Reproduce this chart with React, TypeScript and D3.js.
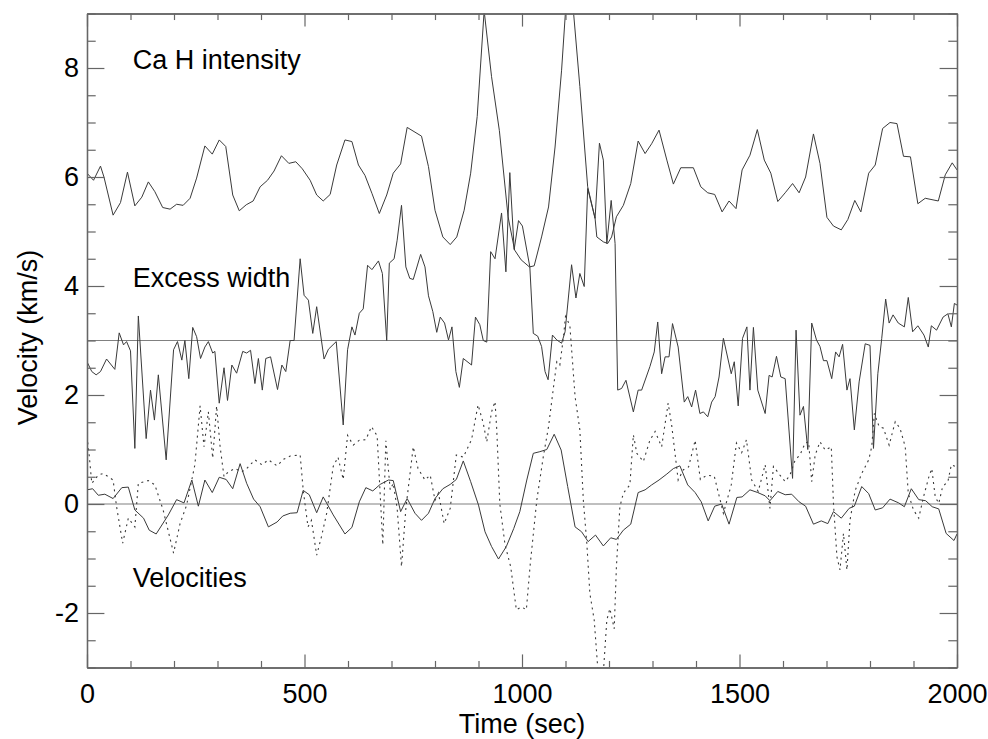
import React, { useEffect, useRef } from "react";
import * as d3 from "d3";

// [time (sec), value (km/s)]
const caHIntensity: [number, number][] = [
  [0, 6.07], [15, 5.94], [31, 6.2], [39, 6.0], [60, 5.3], [77, 5.53], [93, 6.09], [110, 5.47],
  [126, 5.63], [141, 5.91], [156, 5.73], [174, 5.44], [191, 5.41], [206, 5.5], [221, 5.48],
  [237, 5.61], [252, 5.98], [271, 6.57], [288, 6.42], [304, 6.68], [319, 6.56], [335, 5.67],
  [350, 5.38], [366, 5.49], [382, 5.56], [398, 5.82], [415, 5.94], [430, 6.11], [447, 6.39],
  [464, 6.25], [480, 6.28], [495, 6.15], [513, 5.94], [528, 5.67], [543, 5.56], [559, 5.68],
  [574, 6.22], [593, 6.68], [609, 6.65], [624, 6.22], [639, 6.03], [655, 5.7], [672, 5.33],
  [689, 5.67], [704, 6.07], [721, 6.24], [736, 6.91], [769, 6.75], [785, 6.19], [800, 5.39],
  [818, 4.9], [835, 4.76], [850, 4.9], [867, 5.39], [882, 6.07], [897, 7.11], [913, 9.05],
  [930, 7.84], [948, 6.85], [968, 5.27], [983, 4.66], [998, 4.48], [1017, 4.35], [1028, 4.37],
  [1045, 4.9], [1061, 5.45], [1076, 6.55], [1091, 7.96], [1108, 10.0], [1133, 7.66],
  [1151, 5.82], [1168, 5.24], [1172, 4.9], [1187, 4.81], [1197, 4.78], [1206, 4.9],
  [1217, 5.27], [1233, 5.48], [1250, 5.88], [1267, 6.66], [1283, 6.43], [1298, 6.61],
  [1315, 6.86], [1333, 6.31], [1348, 5.87], [1365, 6.17], [1394, 6.17], [1411, 5.82],
  [1427, 5.71], [1443, 5.68], [1460, 5.36], [1476, 5.56], [1492, 5.42], [1506, 6.13],
  [1524, 6.4], [1541, 6.87], [1557, 6.31], [1572, 6.07], [1588, 5.55], [1605, 5.71],
  [1622, 5.88], [1637, 5.71], [1652, 6.0], [1670, 6.79], [1685, 6.25], [1701, 5.26],
  [1716, 5.1], [1734, 5.03], [1749, 5.22], [1765, 5.57], [1779, 5.36], [1797, 6.07],
  [1812, 6.22], [1829, 6.89], [1846, 7.0], [1862, 6.98], [1877, 6.38], [1893, 6.37],
  [1910, 5.51], [1927, 5.61], [1957, 5.56], [1973, 6.04], [1989, 6.26], [2000, 6.13],
];

const excessWidth: [number, number][] = [
  [0, 2.61], [11, 2.43], [21, 2.37], [31, 2.43], [45, 2.66], [64, 2.47], [74, 3.14], [84, 2.92],
  [91, 2.98], [100, 2.81], [110, 1.02], [118, 3.45], [136, 1.2], [146, 2.09], [155, 1.54],
  [164, 2.37], [182, 0.81], [199, 2.83], [208, 2.98], [218, 2.64], [225, 3.0], [234, 2.3],
  [243, 3.24], [252, 3.07], [261, 2.67], [271, 2.88], [279, 2.98], [289, 2.77], [294, 2.8],
  [304, 1.85], [315, 2.5], [323, 1.9], [333, 2.55], [344, 2.4], [358, 2.8], [367, 2.77],
  [376, 2.82], [386, 2.21], [394, 2.67], [403, 2.09], [411, 2.67], [422, 2.7], [438, 2.1],
  [448, 2.55], [457, 2.43], [467, 3.0], [476, 3.0], [490, 4.5], [499, 3.83], [509, 3.74],
  [519, 3.13], [528, 3.62], [545, 2.66], [555, 2.84], [573, 2.98], [589, 1.45], [599, 2.83],
  [609, 3.25], [616, 3.1], [626, 3.5], [635, 3.58], [645, 4.38], [655, 4.3], [670, 4.46],
  [679, 4.23], [689, 3.0], [695, 4.42], [706, 4.5], [713, 4.84], [723, 5.48], [733, 4.35],
  [742, 4.14], [750, 4.12], [767, 4.58], [777, 4.35], [785, 3.82], [795, 3.53], [804, 3.15],
  [812, 3.43], [822, 3.32], [831, 3.01], [839, 3.25], [848, 2.43], [856, 2.14], [865, 2.67],
  [884, 2.55], [893, 3.43], [903, 3.29], [911, 3.0], [919, 2.97], [928, 4.63], [938, 4.5],
  [953, 5.34], [963, 4.26], [972, 6.08], [982, 4.67], [992, 5.2], [1001, 5.1], [1018, 4.35],
  [1026, 3.13], [1036, 3.08], [1045, 2.89], [1053, 2.43], [1060, 2.28], [1070, 3.1],
  [1080, 3.01], [1091, 2.95], [1099, 3.16], [1114, 4.39], [1124, 3.78], [1133, 4.23],
  [1143, 3.99], [1151, 5.79], [1168, 5.24], [1178, 6.62], [1187, 6.31], [1195, 4.78],
  [1205, 5.57], [1214, 4.78], [1220, 2.09], [1229, 2.12], [1239, 2.27], [1256, 1.69],
  [1267, 2.09], [1275, 2.09], [1294, 2.52], [1304, 2.79], [1312, 3.34], [1321, 2.39],
  [1329, 2.7], [1338, 2.7], [1346, 3.31], [1359, 2.88], [1373, 1.87], [1381, 1.97],
  [1390, 1.78], [1399, 2.09], [1409, 1.66], [1417, 1.69], [1427, 1.6], [1436, 1.87],
  [1444, 1.97], [1453, 2.33], [1463, 3.04], [1481, 2.39], [1488, 2.61], [1497, 1.8],
  [1507, 3.04], [1517, 3.25], [1524, 2.09], [1532, 3.24], [1542, 2.09], [1559, 1.66],
  [1568, 2.36], [1575, 2.33], [1585, 2.71], [1595, 2.33], [1605, 2.3], [1622, 0.47],
  [1630, 3.19], [1639, 1.63], [1647, 1.79], [1657, 1.0], [1666, 3.32], [1677, 3.01],
  [1685, 2.89], [1693, 2.63], [1701, 2.63], [1712, 2.3], [1721, 2.79], [1729, 2.7],
  [1737, 2.93], [1747, 2.09], [1754, 2.3], [1764, 1.36], [1775, 2.24], [1789, 2.94],
  [1800, 2.91], [1808, 1.02], [1818, 2.39], [1827, 3.04], [1836, 3.76], [1844, 3.32],
  [1853, 3.47], [1865, 3.32], [1879, 3.25], [1888, 3.79], [1898, 3.16], [1910, 3.27],
  [1924, 3.1], [1934, 2.88], [1941, 3.27], [1953, 3.19], [1968, 3.43], [1979, 3.49],
  [1987, 3.25], [1994, 3.68], [2000, 3.65],
];

const velocitySolid: [number, number][] = [
  [0, 0.26], [13, 0.28], [26, 0.16], [41, 0.18], [60, 0.1], [80, 0.3], [95, 0.31], [110, -0.11],
  [130, -0.26], [143, -0.48], [159, -0.55], [187, -0.2], [206, 0.08], [223, 0.02], [241, 0.44],
  [256, -0.04], [271, 0.44], [288, 0.21], [304, 0.49], [320, 0.45], [335, 0.28], [352, 0.74],
  [367, 0.38], [383, 0.09], [398, -0.05], [417, -0.42], [437, -0.33], [450, -0.22],
  [467, -0.17], [483, -0.16], [497, 0.25], [511, 0.17], [528, -0.16], [543, 0.13],
  [566, -0.2], [593, -0.55], [609, -0.43], [626, 0.04], [641, 0.3], [657, 0.24], [674, 0.36],
  [693, 0.44], [704, 0.43], [721, -0.14], [736, 0.1], [754, -0.17], [769, -0.3], [785, -0.17],
  [800, 0.1], [818, 0.28], [835, 0.36], [849, 0.45], [865, 0.79], [882, 0.41], [900, -0.02],
  [915, -0.51], [930, -0.78], [946, -1.01], [964, -0.78], [981, -0.45], [995, -0.14],
  [1011, 0.44], [1026, 0.93], [1041, 0.96], [1057, 1.0], [1074, 1.28], [1090, 0.99],
  [1105, 0.32], [1122, -0.42], [1137, -0.51], [1152, -0.69], [1169, -0.57], [1187, -0.77],
  [1204, -0.62], [1217, -0.65], [1233, -0.48], [1250, -0.37], [1267, 0.21], [1283, 0.26],
  [1298, 0.35], [1315, 0.44], [1333, 0.55], [1348, 0.65], [1363, 0.7], [1381, 0.35],
  [1398, 0.21], [1412, 0.04], [1428, -0.31], [1443, -0.04], [1459, 0.0], [1476, -0.37],
  [1494, 0.12], [1506, 0.13], [1524, 0.26], [1542, 0.21], [1559, 0.15], [1570, 0.06],
  [1588, 0.23], [1605, 0.17], [1620, 0.18], [1637, 0.04], [1652, -0.04], [1670, -0.37],
  [1688, -0.31], [1703, -0.36], [1716, -0.14], [1734, -0.26], [1752, -0.08], [1764, -0.04],
  [1781, 0.32], [1797, 0.19], [1812, -0.11], [1829, -0.07], [1846, 0.09], [1866, 0.02],
  [1879, -0.05], [1895, 0.28], [1912, 0.08], [1928, 0.06], [1943, -0.05], [1958, -0.09],
  [1975, -0.54], [1993, -0.67], [2000, -0.55],
];

const velocityDotted: [number, number][] = [
  [0, 1.24], [5, 0.9], [11, 0.38], [26, 0.53], [37, 0.56], [49, 0.5], [60, 0.44], [68, -0.05],
  [82, -0.72], [95, -0.26], [110, -0.42], [118, 0.38], [141, 0.43], [156, 0.35], [175, -0.11],
  [199, -0.9], [214, -0.36], [229, -0.02], [248, 0.72], [260, 1.8], [269, 1.05], [279, 1.69],
  [289, 0.84], [298, 1.8], [306, 1.05], [315, 0.5], [325, 0.59], [340, 0.65], [356, 0.59],
  [367, 0.65], [386, 0.81], [402, 0.72], [417, 0.81], [437, 0.7], [452, 0.82], [467, 0.88],
  [490, 0.9], [497, 0.26], [508, -0.42], [516, -0.3], [528, -0.94], [539, -0.6], [551, -0.17],
  [566, 0.69], [577, 0.86], [589, 0.45], [599, 1.26], [612, 1.08], [626, 1.17], [641, 1.18],
  [654, 1.42], [667, 1.25], [680, -0.75], [687, 1.16], [697, 0.26], [704, 0.38], [713, -0.08],
  [723, -1.15], [733, -0.08], [750, 1.05], [761, 0.65], [777, 0.44], [789, 0.53], [800, 0.07],
  [808, 0.2], [821, -0.36], [835, -0.08], [849, 0.9], [865, 0.86], [884, 1.18], [899, 1.82],
  [911, 1.48], [919, 1.14], [930, 1.69], [938, 1.88], [942, 1.36], [949, 0.0], [961, -0.75],
  [974, -1.15], [987, -1.94], [999, -1.89], [1010, -1.94], [1019, -1.1], [1034, 0.07],
  [1049, 0.87], [1061, 1.42], [1072, 2.12], [1080, 2.61], [1087, 2.55], [1095, 3.04],
  [1100, 3.44], [1110, 3.28], [1122, 1.97], [1133, 1.36], [1141, 0.07], [1149, -0.72],
  [1156, -1.64], [1166, -2.13], [1175, -3.1], [1187, -3.1], [1195, -2.13], [1202, -1.92],
  [1212, -2.29], [1217, -1.16], [1225, -0.05], [1233, 0.2], [1248, 0.35], [1256, 1.27],
  [1264, 0.93], [1279, 0.78], [1294, 1.17], [1306, 1.33], [1321, 1.05], [1336, 1.85],
  [1344, 1.45], [1359, 0.44], [1371, 0.63], [1383, 0.68], [1398, 1.17], [1410, 0.45],
  [1425, 0.53], [1442, 0.51], [1463, -0.17], [1481, 0.35], [1493, 1.12], [1505, 0.94],
  [1516, 1.18], [1528, 0.44], [1543, 0.23], [1559, 0.72], [1570, -0.08], [1578, 0.69],
  [1593, 0.53], [1605, 0.41], [1616, 0.53], [1628, 0.81], [1639, 0.9], [1651, 1.12],
  [1659, 1.14], [1666, 0.41], [1674, 0.9], [1685, 1.14], [1697, 0.99], [1711, 1.05],
  [1716, 0.01], [1724, -0.97], [1731, -1.21], [1739, -0.54], [1747, -1.21], [1754, -0.3],
  [1766, 0.25], [1781, 0.56], [1797, 0.81], [1804, 1.05], [1810, 1.66], [1821, 1.42],
  [1831, 1.39], [1844, 1.08], [1858, 1.51], [1869, 1.39], [1881, 1.05], [1888, 0.19],
  [1900, -0.11], [1912, -0.26], [1923, 0.13], [1935, 0.49], [1942, 0.65], [1950, 0.13],
  [1958, 0.01], [1967, 0.32], [1979, 0.41], [1987, 0.72], [1996, 0.69],
];

const referenceLevels = [0, 3];
const xMajorTicks = [0, 500, 1000, 1500, 2000];
const yMajorTicks = [-2, 0, 2, 4, 6, 8];
const seriesLabels = ["Ca H intensity", "Excess width", "Velocities"];

export default function App() {
  const ref = useRef<SVGSVGElement>(null);

  useEffect(() => {
    const width = 988,
      height = 739,
      margin = { top: 13.5, right: 31, bottom: 71.5, left: 87 };
    const font = "'Liberation Sans', Arial, Helvetica, sans-serif";

    const svg = d3.select(ref.current);
    svg.selectAll("*").remove();

    const x = d3
      .scaleLinear()
      .domain([0, 2000])
      .range([margin.left, width - margin.right]);
    const y = d3
      .scaleLinear()
      .domain([-3, 9])
      .range([height - margin.bottom, margin.top]);

    const plotW = width - margin.left - margin.right;
    const plotH = height - margin.top - margin.bottom;
    const xTickLen = plotH * 0.02;
    const yTickLen = plotW * 0.02;
    const minorX = d3.range(0, 2001, 100).filter((d) => d % 500 !== 0);
    const minorY = d3.range(-3, 9.01, 0.5).filter((d) => d % 2 !== 0);
    const plain = (d) => String(d);

    svg
      .append("defs")
      .append("clipPath")
      .attr("id", "plot-clip")
      .append("rect")
      .attr("x", margin.left)
      .attr("y", margin.top)
      .attr("width", plotW)
      .attr("height", plotH);

    const axisColor = "#666";

    // reference lines at 0 and 3
    svg
      .append("g")
      .selectAll("line")
      .data(referenceLevels)
      .enter()
      .append("line")
      .attr("x1", x(0))
      .attr("x2", x(2000))
      .attr("y1", (d) => y(d))
      .attr("y2", (d) => y(d))
      .attr("stroke", "#808080")
      .attr("stroke-width", 1.2);

    const line = d3
      .line<[number, number]>()
      .x((d) => x(d[0]))
      .y((d) => y(d[1]));

    const lines = svg.append("g").attr("clip-path", "url(#plot-clip)");
    [caHIntensity, excessWidth, velocitySolid].forEach((s) => {
      lines
        .append("path")
        .datum(s)
        .attr("d", line)
        .attr("fill", "none")
        .attr("stroke", "#3a3a3a")
        .attr("stroke-width", 1);
    });
    lines
      .append("path")
      .datum(velocityDotted)
      .attr("d", line)
      .attr("fill", "none")
      .attr("stroke", "#3a3a3a")
      .attr("stroke-width", 1.1)
      .attr("stroke-dasharray", "2,4");

    // axes: ticks point into the plot, labels only bottom / left
    const styleAxis = (g) => {
      g.selectAll(".domain").attr("stroke", axisColor).attr("stroke-width", 1.3);
      g.selectAll(".tick line").attr("stroke", axisColor).attr("stroke-width", 1.2);
      g.selectAll("text")
        .attr("fill", "#000")
        .style("font-family", font)
        .style("font-size", "27px");
    };

    svg
      .append("g")
      .attr("transform", `translate(0,${y(-3)})`)
      .call(
        d3.axisBottom(x).tickValues(xMajorTicks).tickFormat(plain)
          .tickSize(-xTickLen).tickPadding(16).tickSizeOuter(0)
      )
      .call(styleAxis)
      .call((g) => g.selectAll("text").attr("dy", "0.71em"));
    svg
      .append("g")
      .attr("transform", `translate(0,${y(-3)})`)
      .call(d3.axisBottom(x).tickValues(minorX).tickSize(-xTickLen / 2).tickFormat(() => "").tickSizeOuter(0))
      .call(styleAxis);
    svg
      .append("g")
      .attr("transform", `translate(0,${y(9)})`)
      .call(d3.axisTop(x).tickValues(xMajorTicks).tickSize(-xTickLen).tickFormat(() => "").tickSizeOuter(0))
      .call(styleAxis);
    svg
      .append("g")
      .attr("transform", `translate(0,${y(9)})`)
      .call(d3.axisTop(x).tickValues(minorX).tickSize(-xTickLen / 2).tickFormat(() => "").tickSizeOuter(0))
      .call(styleAxis);

    svg
      .append("g")
      .attr("transform", `translate(${x(0)},0)`)
      .call(
        d3.axisLeft(y).tickValues(yMajorTicks).tickFormat(plain)
          .tickSize(-yTickLen).tickPadding(8).tickSizeOuter(0)
      )
      .call(styleAxis);
    svg
      .append("g")
      .attr("transform", `translate(${x(0)},0)`)
      .call(d3.axisLeft(y).tickValues(minorY).tickSize(-yTickLen / 2).tickFormat(() => "").tickSizeOuter(0))
      .call(styleAxis);
    svg
      .append("g")
      .attr("transform", `translate(${x(2000)},0)`)
      .call(d3.axisRight(y).tickValues(yMajorTicks).tickSize(-yTickLen).tickFormat(() => "").tickSizeOuter(0))
      .call(styleAxis);
    svg
      .append("g")
      .attr("transform", `translate(${x(2000)},0)`)
      .call(d3.axisRight(y).tickValues(minorY).tickSize(-yTickLen / 2).tickFormat(() => "").tickSizeOuter(0))
      .call(styleAxis);

    // series labels inside the plot, on the left
    const labelLevels = [8, 4, -1.5];
    svg
      .append("g")
      .selectAll("text")
      .data(seriesLabels)
      .enter()
      .append("text")
      .attr("x", x(105))
      .attr("y", (d, i) => y(labelLevels[i]) + 1)
      .text((d) => d)
      .style("font-family", font)
      .style("font-size", "27px")
      .attr("fill", "#000");

    // axis titles
    svg
      .append("text")
      .attr("x", (x(0) + x(2000)) / 2)
      .attr("y", 733)
      .attr("text-anchor", "middle")
      .style("font-family", font)
      .style("font-size", "27px")
      .text("Time (sec)");
    svg
      .append("text")
      .attr("transform", `translate(37,${(y(-3) + y(9)) / 2 - 3}) rotate(-90)`)
      .attr("text-anchor", "middle")
      .style("font-family", font)
      .style("font-size", "27px")
      .text("Velocity (km/s)");
  }, []);

  return (
    <svg
      ref={ref}
      width={988}
      height={739}
      style={{ position: "absolute", left: 0, top: 0, background: "#fff" }}
    />
  );
}
